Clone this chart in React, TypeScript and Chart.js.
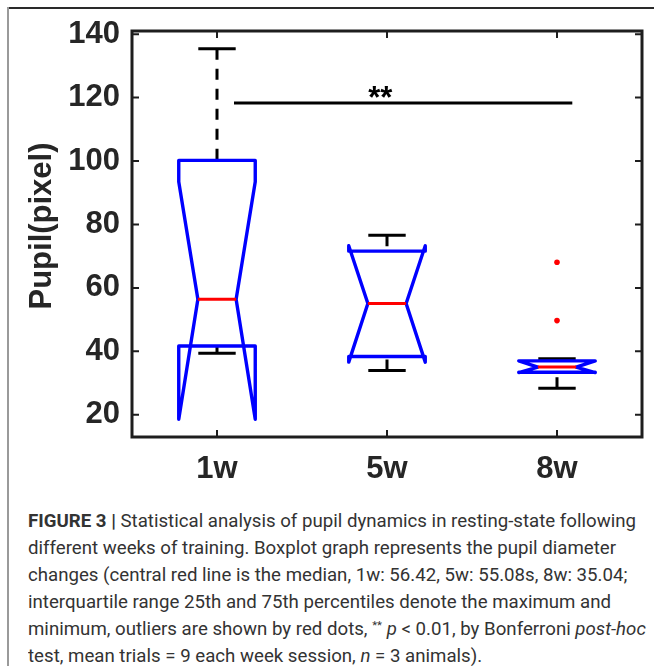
import React, { useEffect, useRef, useState } from "react";
import { Chart, registerables } from "chart.js";

Chart.register(...registerables);

// ---- data ----
const categories = ["1w", "5w", "8w"];
const medians = [56.42, 55.08, 35.04];
const q1 = [41.7, 38.4, 33.4];
const q3 = [100.2, 71.6, 37.0];
const notchLow = [18.6, 36.6, 33.3];
const notchHigh = [93.5, 73.3, 37.0];
const whiskerLow = [39.4, 34.0, 28.4];
const whiskerHigh = [135.4, 76.6, 37.7];
const outlierGroup = [3, 3];
const outlierValues = [68.1, 49.7];
const yTicks = [20, 40, 60, 80, 100, 120, 140];
const sigFrom = 1.1;
const sigTo = 3.09;
const sigValue = 118.3;
const sigLabel = "**";
const yTitle = "Pupil(pixel)";

const BOX_HALF = 0.225;
const NOTCH_HALF = 0.1125;
const CAP_HALF = 0.11;
const AXIS_COLOR = "#1e1e1e";
const TEXT_COLOR = "#262626";
const FONT = '"Liberation Sans", Arial, sans-serif';

type P = { x: number; y: number | null };

function buildBoxes(): P[] {
  const pts: P[] = [];
  categories.forEach((_, i) => {
    const c = i + 1;
    const L = c - BOX_HALF, R = c + BOX_HALF, nL = c - NOTCH_HALF, nR = c + NOTCH_HALF;
    pts.push(
      { x: L, y: q1[i] }, { x: L, y: notchLow[i] }, { x: nL, y: medians[i] },
      { x: L, y: notchHigh[i] }, { x: L, y: q3[i] }, { x: R, y: q3[i] },
      { x: R, y: notchHigh[i] }, { x: nR, y: medians[i] }, { x: R, y: notchLow[i] },
      { x: R, y: q1[i] }, { x: L, y: q1[i] }, { x: c, y: null }
    );
  });
  return pts;
}
function buildMedians(): P[] {
  const pts: P[] = [];
  categories.forEach((_, i) => {
    const c = i + 1;
    pts.push({ x: c - NOTCH_HALF, y: medians[i] }, { x: c + NOTCH_HALF, y: medians[i] }, { x: c, y: null });
  });
  return pts;
}
function buildWhiskers(): P[] {
  const pts: P[] = [];
  categories.forEach((_, i) => {
    const c = i + 1;
    pts.push({ x: c, y: whiskerHigh[i] }, { x: c, y: q3[i] }, { x: c, y: null });
    pts.push({ x: c, y: whiskerLow[i] }, { x: c, y: q1[i] }, { x: c, y: null });
  });
  return pts;
}
function buildCaps(): P[] {
  const pts: P[] = [];
  categories.forEach((_, i) => {
    const c = i + 1;
    pts.push({ x: c - CAP_HALF, y: whiskerHigh[i] }, { x: c + CAP_HALF, y: whiskerHigh[i] }, { x: c, y: null });
    pts.push({ x: c - CAP_HALF, y: whiskerLow[i] }, { x: c + CAP_HALF, y: whiskerLow[i] }, { x: c, y: null });
  });
  return pts;
}

const framePlugin = {
  id: "matlabFrame",
  afterDraw(chart: any) {
    const { ctx, chartArea: a, scales } = chart;
    const xs = scales.x, ys = scales.y;
    ctx.save();
    // significance stars
    ctx.fillStyle = "#000";
    ctx.font = `bold 31px ${FONT}`;
    ctx.textAlign = "center";
    ctx.textBaseline = "alphabetic";
    ctx.fillText(sigLabel, xs.getPixelForValue(1.96), ys.getPixelForValue(116.7));
    // frame
    ctx.strokeStyle = AXIS_COLOR;
    ctx.lineWidth = 3;
    ctx.strokeRect(a.left, a.top, a.right - a.left, a.bottom - a.top);
    ctx.lineWidth = 2;
    ctx.beginPath();
    const tl = 7;
    yTicks.forEach((v) => {
      const y = ys.getPixelForValue(v);
      ctx.moveTo(a.left, y); ctx.lineTo(a.left + tl, y);
      ctx.moveTo(a.right, y); ctx.lineTo(a.right - tl, y);
    });
    categories.forEach((_, i) => {
      const x = xs.getPixelForValue(i + 1);
      ctx.moveTo(x, a.bottom); ctx.lineTo(x, a.bottom - tl);
      ctx.moveTo(x, a.top); ctx.lineTo(x, a.top + tl);
    });
    ctx.stroke();
    // y title
    ctx.translate(42, (a.top + a.bottom) / 2 - 8);
    ctx.rotate(-Math.PI / 2);
    ctx.fillStyle = TEXT_COLOR;
    ctx.font = `bold 31px ${FONT}`;
    ctx.textAlign = "center";
    ctx.textBaseline = "middle";
    ctx.fillText(yTitle, 0, 0);
    ctx.restore();
  },
};

function BoxChart() {
  const ref = useRef<HTMLCanvasElement>(null);
  useEffect(() => {
    if (!ref.current) return;
    const tickFont = { family: FONT, size: 31, weight: "bold" as const };
    const chart = new Chart(ref.current, {
      type: "scatter",
      data: {
        datasets: [
          {
            data: buildMedians() as any, showLine: true, borderColor: "#ff0000", borderWidth: 3,
            pointRadius: 0, order: 0, spanGaps: false, borderCapStyle: "butt",
          },
          {
            data: buildBoxes() as any, showLine: true, borderColor: "#0000ff", borderWidth: 3.4,
            pointRadius: 0, order: 1, spanGaps: false, borderJoinStyle: "round", borderCapStyle: "round",
          },
          {
            data: buildCaps() as any, showLine: true, borderColor: "#000", borderWidth: 3,
            pointRadius: 0, order: 2, spanGaps: false,
          },
          {
            data: buildWhiskers() as any, showLine: true, borderColor: "#000", borderWidth: 3,
            borderDash: [11, 9], pointRadius: 0, order: 3, spanGaps: false, borderCapStyle: "butt",
          },
          {
            data: outlierGroup.map((g, i) => ({ x: g, y: outlierValues[i] })),
            showLine: false, pointRadius: 2.8, pointBackgroundColor: "#ff0000",
            pointBorderWidth: 0, borderColor: "#ff0000", order: 0,
          },
          {
            data: [{ x: sigFrom, y: sigValue }, { x: sigTo, y: sigValue }],
            showLine: true, borderColor: "#000", borderWidth: 3.2, pointRadius: 0, order: 0,
          },
        ],
      },
      options: {
        animation: false,
        responsive: false,
        maintainAspectRatio: false,
        devicePixelRatio: 1,
        events: [],
        layout: { padding: { left: 0, top: 31, right: 12, bottom: 0 } },
        plugins: { legend: { display: false }, tooltip: { enabled: false } },
        scales: {
          x: {
            type: "linear", min: 0.5, max: 3.5,
            grid: { display: false, drawTicks: false },
            border: { display: false },
            afterBuildTicks: (s: any) => { s.ticks = categories.map((_, i) => ({ value: i + 1 })); },
            afterFit: (s: any) => { s.height = 43; },
            ticks: {
              callback: (v: any) => categories[Math.round(v) - 1] ?? "",
              font: tickFont, color: TEXT_COLOR, padding: 14, maxRotation: 0, autoSkip: false,
            },
          },
          y: {
            type: "linear", min: 13, max: 141,
            grid: { display: false, drawTicks: false },
            border: { display: false },
            afterBuildTicks: (s: any) => { s.ticks = yTicks.map((v) => ({ value: v })); },
            afterFit: (s: any) => { s.width = 132; },
            ticks: { font: tickFont, color: TEXT_COLOR, padding: 12 },
          },
        },
      },
      plugins: [framePlugin],
    } as any);
    return () => chart.destroy();
  }, []);
  return (
    <canvas ref={ref} width={654} height={480}
      style={{ position: "absolute", left: 0, top: 0, width: 654, height: 480, display: "block" }} />
  );
}

const CAP_FONT = 'Roboto, "Liberation Sans", Arial, sans-serif';

export default function App() {
  const [sx, setSx] = useState(1);
  useEffect(() => {
    const c = document.createElement("canvas").getContext("2d");
    if (!c) return;
    c.font = `bold 18px ${CAP_FONT}`;
    const w1 = c.measureText("FIGURE 3 |").width;
    c.font = `18px ${CAP_FONT}`;
    const w2 = c.measureText(" Statistical analysis of pupil dynamics in resting-state following").width;
    setSx(608 / (w1 + w2));
  }, []);
  const lineStyle: React.CSSProperties = { whiteSpace: "nowrap", height: 27, lineHeight: "27px", overflow: "visible" };
  return (
    <div style={{ position: "fixed", left: 0, top: 0, width: 654, height: 666, overflow: "hidden", background: "#fff" }}>
      <div style={{ position: "absolute", left: 7, top: 7, width: 647, height: 2, background: "#2a2a2a" }} />
      <div style={{ position: "absolute", left: 7, top: 7, width: 2, height: 659, background: "#9a9a9a" }} />
      <BoxChart />
      <div
        style={{
          position: "absolute", left: 28, top: 507, fontFamily: CAP_FONT, fontSize: 18,
          color: "#333", transform: `scaleX(${sx})`, transformOrigin: "0 0",
        }}
      >
        <div style={lineStyle}>
          <b>FIGURE 3 |</b> Statistical analysis of pupil dynamics in resting-state following
        </div>
        <div style={lineStyle}>different weeks of training. Boxplot graph represents the pupil diameter</div>
        <div style={lineStyle}>changes (central red line is the median, 1w: 56.42, 5w: 55.08s, 8w: 35.04;</div>
        <div style={lineStyle}>interquartile range 25th and 75th percentiles denote the maximum and</div>
        <div style={lineStyle}>
          minimum, outliers are shown by red dots,{" "}
          <span style={{ fontSize: 11, lineHeight: 0, position: "relative", top: -6 }}>**</span> <i>p</i> &lt; 0.01, by
          Bonferroni <i>post-hoc</i>
        </div>
        <div style={lineStyle}>
          test, mean trials = 9 each week session, <i>n</i> = 3 animals).
        </div>
      </div>
    </div>
  );
}
